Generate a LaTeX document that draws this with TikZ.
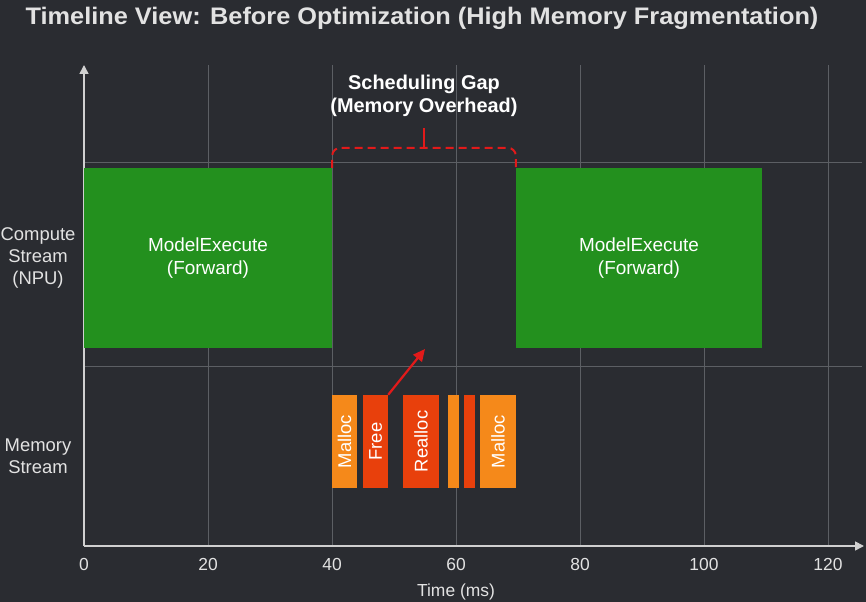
\documentclass[tikz,border=0pt]{standalone}
\usepackage{fontspec}
\setmainfont{Liberation Sans}
\usepackage{xcolor}
\usepackage{graphicx}
\usepackage{tikz}
\usetikzlibrary{
    arrows.meta,
    positioning,
    calc
}

\begin{document}
\begin{tikzpicture}[x=1bp,y=1bp,
        gridline/.style={gridcolor,line width=0.9bp},
        axisline/.style={axiscolor,line width=1.6bp,-{Triangle[length=9bp,width=9bp]}},
        computeblk/.style={fill=greencolor,draw=none,minimum height=180bp,inner sep=0pt,
            text=white,align=center,font=\fontsize{19}{23}\selectfont},
        memblk/.style={draw=none,minimum height=93bp,inner sep=0pt,
            text=white,font=\fontsize{18.5}{20}\selectfont},
        ticklabel/.style={text=ticktext,font=\fontsize{17.5}{20}\selectfont},
        sidelabel/.style={text=ticktext,align=center,font=\fontsize{18.5}{22.5}\selectfont}]
            \definecolor{bgcolor}{HTML}{2A2C31}
            \definecolor{gridcolor}{HTML}{5C5F64}
            \definecolor{axiscolor}{HTML}{D0D0D0}
            \definecolor{ticktext}{HTML}{E2E2E2}
            \definecolor{greencolor}{HTML}{23901E}
            \definecolor{orangeblk}{HTML}{F5891A}
            \definecolor{redblk}{HTML}{E8400C}
            \definecolor{gapcolor}{HTML}{E21A1A}
            \fill[bgcolor] (0,0) rectangle (866,602);
            \useasboundingbox (0,0) rectangle (866,602);
            % title
            \node[text=ticktext,font=\bfseries\fontsize{24}{26}\selectfont,xscale=1.06] (title) at (422,584)
                {Timeline View: Before Optimization (High Memory Fragmentation)};
            % grid
            \foreach \xx in {208,332,456,580,704,828}
                \draw[gridline] (\xx,56) -- (\xx,537);
            \draw[gridline] (84,440) -- (862,440);
            \draw[gridline] (84,236) -- (862,236);
            % axes
            \coordinate (origin) at (84,56);
            \coordinate (xend) at (864,56);
            \coordinate (yend) at (84,537);
            \draw[axisline] (origin) -- (xend);
            \draw[axisline] (origin) -- (yend);
            \foreach \xx/\lab in {84/0,208/20,332/40,456/60,580/80,704/100,828/120}
                \node[ticklabel] (tick\lab) at (\xx,37) {\lab};
            \node[ticklabel] (xlabel) at (456,10) {Time (ms)};
            \node[sidelabel] (computelabel) at (38,344) {Compute\\Stream\\(NPU)};
            \node[sidelabel] (memorylabel) at (38,146) {Memory\\Stream};
            % compute stream
            \node[computeblk,minimum width=248bp] (forwarda) at (208,344) {ModelExecute\\(Forward)};
            \node[computeblk,minimum width=246bp] (forwardb) at (639,344) {ModelExecute\\(Forward)};
            % memory stream
            \node[memblk,fill=orangeblk,minimum width=25bp] (malloca) at (344.5,160.5) {\rotatebox{90}{Malloc}};
            \node[memblk,fill=redblk,minimum width=25bp] (free) at (375.5,160.5) {\rotatebox{90}{Free}};
            \node[memblk,fill=redblk,minimum width=36bp] (realloc) at (421,160.5) {\rotatebox{90}{Realloc}};
            \node[memblk,fill=orangeblk,minimum width=11bp] (smalla) at (453.5,160.5) {};
            \node[memblk,fill=redblk,minimum width=11bp] (smallb) at (469.5,160.5) {};
            \node[memblk,fill=orangeblk,minimum width=36bp] (mallocb) at (498,160.5) {\rotatebox{90}{Malloc}};
            % scheduling gap
            \coordinate (gaptarget) at (425,253);
            \draw[gapcolor,line width=2.2bp,-{Triangle[length=12bp,width=11bp]}] (free.north east) -- (gaptarget);
            \draw[gapcolor,line width=2bp,dash pattern=on 8bp off 5bp,rounded corners=8bp]
                (forwarda.north east) -- ++(0,20) -- ($(forwardb.north west)+(0,20)$) -- (forwardb.north west);
            \draw[gapcolor,line width=2bp] (424,454) -- (424,474);
            \node[text=white,align=center,font=\bfseries\fontsize{20}{23}\selectfont] (gaplabel) at (424,506)
                {Scheduling Gap\\(Memory Overhead)};
        \end{tikzpicture}
\end{document}
